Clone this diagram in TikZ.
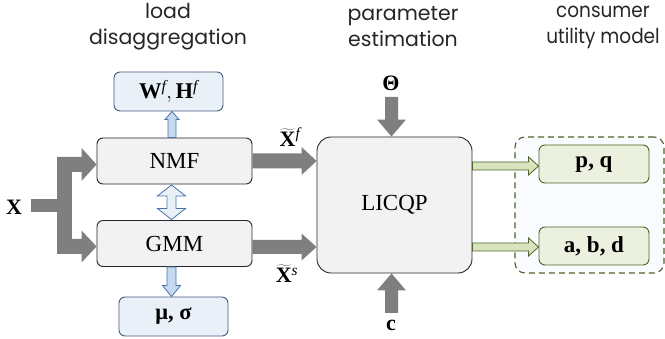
\documentclass[tikz,border=0pt]{standalone}
\usepackage{fontspec}
\setmainfont{Liberation Serif}
\newfontfamily\headfont{Poppins}
\newfontfamily\headfontnarrow[FakeStretch=0.9]{Poppins}
\usetikzlibrary{calc}

\definecolor{boxgray}{HTML}{F2F2F2}
\definecolor{boxline}{HTML}{262626}
\definecolor{arrowgray}{HTML}{7F7F7F}
\definecolor{bluefill}{HTML}{EAF0F8}
\definecolor{blueline}{HTML}{3F5A80}
\definecolor{bluearrow}{HTML}{C5D9F1}
\definecolor{arrowline}{HTML}{4A72A8}
\definecolor{greenfill}{HTML}{EBF1DE}
\definecolor{greenarrow}{HTML}{D7E4BD}
\definecolor{greenline}{HTML}{4F6228}
\definecolor{dashfill}{HTML}{FAFBFE}
\definecolor{headtext}{HTML}{262626}

% block arrow pointing right: start point, end point, shaft half width, head half width, head length
\newcommand\harrow[6][]{\path[#1] let \p1=#2, \p2=#3 in
  (\x1,\y1+#4) -- (\x2-#6,\y1+#4) -- (\x2-#6,\y1+#5) -- (\x2,\y1) --
  (\x2-#6,\y1-#5) -- (\x2-#6,\y1-#4) -- (\x1,\y1-#4) -- cycle;}
% vertical block arrow (up or down), x taken from the start point
\newcommand\varrow[6][]{\path[#1] let \p1=#2, \p2=#3, \n1={sign(\y2-\y1)} in
  (\x1-#4,\y1) -- (\x1-#4,\y2-\n1*#6) -- (\x1-#5,\y2-\n1*#6) -- (\x1,\y2) --
  (\x1+#5,\y2-\n1*#6) -- (\x1+#4,\y2-\n1*#6) -- (\x1+#4,\y1) -- cycle;}
% vertical double-headed block arrow, upper point first
\newcommand\vdarrow[6][]{\path[#1] let \p1=#2, \p2=#3 in
  (\x1,\y1) -- (\x1+#5,\y1-#6) -- (\x1+#4,\y1-#6) -- (\x1+#4,\y2+#6) --
  (\x1+#5,\y2+#6) -- (\x1,\y2) -- (\x1-#5,\y2+#6) -- (\x1-#4,\y2+#6) --
  (\x1-#4,\y1-#6) -- (\x1-#5,\y1-#6) -- cycle;}

\tikzset{
  procbox/.style={draw=boxline, fill=boxgray, rounded corners=6pt, line width=0.9pt,
    minimum width=155pt, minimum height=46pt, inner sep=0pt,
    font=\fontsize{23}{26}\selectfont},
  outbox/.style={draw=blueline, fill=bluefill, rounded corners=6pt, line width=0.9pt,
    minimum width=109pt, minimum height=39pt, inner sep=0pt,
    font=\fontsize{22.5}{24}\selectfont},
  resbox/.style={draw=greenline, fill=greenfill, rounded corners=6pt, line width=0.9pt,
    minimum width=110pt, minimum height=38pt, inner sep=0pt,
    font=\fontsize{23}{24}\selectfont\bfseries},
  container/.style={draw=greenline, fill=dashfill, dashed, dash pattern=on 6pt off 4pt,
    rounded corners=10pt, line width=1.1pt, minimum width=149pt, minimum height=136pt},
  heading/.style={align=center, text=headtext, font=\headfont\fontsize{20.5}{26}\selectfont},
  narrowheading/.style={heading, font=\headfontnarrow\fontsize{20.5}{26}\selectfont},
  mathlabel/.style={inner sep=1pt, font=\fontsize{22}{24}\selectfont},
  grayarr/.style={fill=arrowgray},
  bluearr/.style={fill=bluearrow, draw=arrowline, line width=0.8pt, line join=miter},
  bluedbl/.style={fill=bluefill, draw=arrowline, line width=0.8pt, line join=miter},
  greenarr/.style={fill=greenarrow, draw=greenline, line width=0.8pt, line join=miter},
}

\begin{document}
\begin{tikzpicture}[x=1pt, y=-1pt]
\useasboundingbox (0,0) rectangle (665,339);

% column headings
\node[heading] (h1) at (168,27) {load\\disaggregation};
\node[heading] (h2) at (403,27) {parameter\\estimation};
\node[narrowheading] (h3) at (603,27) {consumer\\utility model};

% processing blocks
\node[procbox] (nmf) at (174.5,161) {NMF};
\node[procbox] (gmm) at (174.5,243.5) {GMM};
\node[procbox, minimum height=136pt, rounded corners=14pt] (licqp) at (394.5,205) {LICQP};

% disaggregation outputs
\node[outbox] (wf) at (168.5,91.5) {$\mathbf{W}^{\mathit{f}}, \mathbf{H}^{\mathit{f}}$};
\node[outbox] (mus) at (173.5,316.5) {\textbf{μ, σ}};

% utility model group
\node[container] (util) at (589.5,205) {};
\node[resbox] (pq) at (594,164) {p, q};
\node[resbox] (abd) at (594,246) {a, b, d};

% signal labels
\node[mathlabel] (xin) at (14,207) {$\mathbf{X}$};
\node[mathlabel] (xf) at (290,137) {$\widetilde{\mathbf{X}}^{\mathit{f}}$};
\node[mathlabel] (xs) at (287,274) {$\widetilde{\mathbf{X}}^{\mathit{s}}$};
\node[mathlabel] (theta) at (391,83) {\textbf{Θ}};
\node[mathlabel] (cin) at (391,325) {$\mathbf{c}$};

% input fork from X to both models
\coordinate (xstart) at (31,205.5);
\coordinate (forkup) at (57,164.5);
\coordinate (forkdn) at (57,246.5);
\fill[grayarr] ($(xstart)+(0,-6.5)$) rectangle ($(forkup |- xstart)+(15,6.5)$);
\fill[grayarr] ($(forkup)+(0,-7.5)$) rectangle ($(forkdn)+(15,7.5)$);
\harrow[grayarr]{(forkup)}{(nmf.west)}{7.5}{16.5}{15}
\harrow[grayarr]{(forkdn)}{(gmm.west)}{7.5}{16}{15}

% model outputs into the estimator
\harrow[grayarr]{(nmf.east)}{(licqp.west)}{7.5}{14}{15}
\harrow[grayarr]{($(gmm.east)+(0,3.5)$)}{(licqp.west)}{7}{13.5}{15}

% side inputs of the estimator
\coordinate (thetaout) at (391.5,97);
\coordinate (cout) at (391.5,313);
\varrow[grayarr]{(thetaout)}{(licqp.north)}{6.5}{14.5}{17}
\varrow[grayarr]{(cout)}{(licqp.south)}{6.5}{14.5}{17}

% model parameters
\varrow[bluearr]{($(nmf.north)+(-2.5,0)$)}{(wf.south)}{4}{7}{8}
\varrow[bluearr]{($(gmm.south)+(-3,0)$)}{(mus.north)}{4.5}{9}{11}
\vdarrow[bluedbl]{($(nmf.south)+(-3,0.5)$)}{($(gmm.north)+(-3,-0.5)$)}{4.5}{14}{11}

% estimated utility parameters
\harrow[greenarr]{($(licqp.east)+(0,-39)$)}{(pq.west)}{4}{9}{10}
\harrow[greenarr]{($(licqp.east)+(0,42)$)}{(abd.west)}{4}{9}{10}
\end{tikzpicture}
\end{document}
